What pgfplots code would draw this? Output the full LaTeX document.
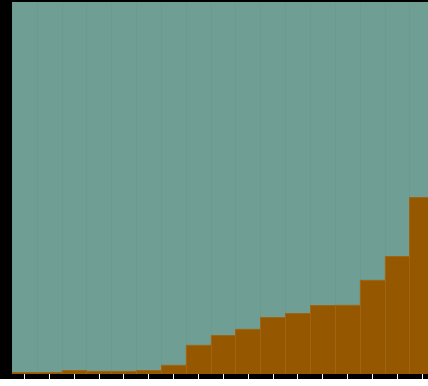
\documentclass[border=0pt]{standalone}
\usepackage{pgfplots}
\pgfplotsset{compat=1.18}
\definecolor{tealbg}{RGB}{111,159,148}
\definecolor{barc}{RGB}{149,88,0}
\begin{document}
\begin{tikzpicture}
\fill[black] (-12pt,-5pt) rectangle (416pt,374pt);
\begin{axis}[
  at={(0pt,0pt)}, anchor=south west,
  scale only axis, width=416pt, height=371.5pt,
  xmin=-0.5, xmax=16.24, ymin=0, ymax=371.5,
  axis background/.style={fill=tealbg},
  axis line style={draw=none},
  xtick={0,1,...,16}, xticklabels={},
  ytick=\empty,
  xtick pos=bottom,
  tick align=outside,
  major tick length=5pt,
  tick style={white, line width=0.7pt},
  minor xtick={-0.5,0.5,...,16.5},
  minor tick length=0pt,
  xminorgrids,
  minor grid style={tealbg!97!black, line width=0.4pt},
  clip=true,
]
\addplot[ybar, bar width=1, bar shift=0pt, fill=barc, draw=barc!92!white, line width=0.4pt]
coordinates {
(0,1.3) (1,1.3) (2,3.3) (3,3) (4,3) (5,3.7) (6,9) (7,29) (8,38.3) (9,45)
(10,56.3) (11,60.7) (12,68.3) (13,69) (14,94) (15,117.3) (16,176.7)
};
\end{axis}
\end{tikzpicture}
\end{document}
